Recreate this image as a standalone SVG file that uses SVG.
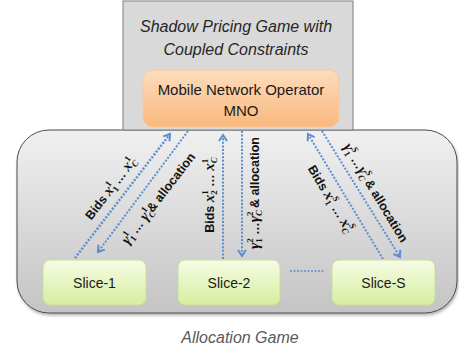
<svg xmlns="http://www.w3.org/2000/svg" width="459" height="349" viewBox="0 0 459 349">
<defs>
<linearGradient id="gBig" x1="0" y1="0" x2="0" y2="1">
<stop offset="0" stop-color="#f0f0f0"/><stop offset="1" stop-color="#c4c4c4"/>
</linearGradient>
<linearGradient id="gOr" x1="0" y1="0" x2="0" y2="1">
<stop offset="0" stop-color="#fddcbd"/><stop offset="1" stop-color="#f9b97d"/>
</linearGradient>
<linearGradient id="gGr" x1="0" y1="0" x2="0" y2="1">
<stop offset="0" stop-color="#f6fce4"/><stop offset="1" stop-color="#d6eea0"/>
</linearGradient>
<filter id="sh" x="-10%" y="-10%" width="120%" height="130%">
<feDropShadow dx="1" dy="2" stdDeviation="1.5" flood-color="#000" flood-opacity="0.3"/>
</filter>
<marker id="ah" markerWidth="10" markerHeight="10" refX="7" refY="5" orient="auto" markerUnits="userSpaceOnUse">
<path d="M1,1 L7,5 L1,9" fill="none" stroke="#5b8fd0" stroke-width="2"/>
</marker>
<style>
.box{font-family:"Liberation Sans",Arial,sans-serif;font-size:14px;fill:#1a1a1a;text-anchor:middle}
.mno{font-size:15px}
.ttl{font-family:"Liberation Sans",Arial,sans-serif;font-size:16px;font-style:italic;fill:#262626;text-anchor:middle}
.cap{font-family:"Liberation Sans",Arial,sans-serif;font-size:16px;font-style:italic;fill:#595959;text-anchor:middle}
.lbl{font-family:"Liberation Sans",Arial,sans-serif;font-size:12.5px;font-weight:bold;fill:#111;text-anchor:middle}
.m{font-family:"Liberation Serif","Times New Roman",serif;font-style:italic;font-size:15px}
.s{font-family:"Liberation Serif","Times New Roman",serif;font-size:9px}
.si{font-family:"Liberation Serif","Times New Roman",serif;font-style:italic;font-size:9px}
.arr{fill:none;stroke:#5b8fd0;stroke-width:2.5;stroke-dasharray:2 1.6;marker-end:url(#ah)}
.dot{fill:none;stroke:#5b8fd0;stroke-width:1.5;stroke-dasharray:2 1.5}
.slice{fill:url(#gGr);stroke:#c8dca0;stroke-width:1}
</style>
</defs>
<rect width="459" height="349" fill="#ffffff"/>

<g id="allocation-game">
<rect x="17" y="130" width="440" height="183" rx="32" ry="32" fill="url(#gBig)" stroke="#4d4d4d" stroke-width="1" filter="url(#sh)"/>
<text class="cap" x="240" y="343">Allocation Game</text>
</g>

<g id="shadow-pricing-game">
<rect x="123" y="1" width="230" height="129" fill="#d9d9d9" stroke="#7f7f7f" stroke-width="1"/>
<text class="ttl" x="236" y="32">Shadow Pricing Game with</text>
<text class="ttl" x="236" y="55">Coupled Constraints</text>
</g>

<g id="mno">
<rect x="143" y="70" width="196" height="57" rx="10" ry="10" fill="url(#gOr)" stroke="#f8c9a0" stroke-width="1"/>
<text class="box mno" x="241" y="95">Mobile Network Operator</text>
<text class="box mno" x="241" y="116">MNO</text>
</g>

<g id="connectors">
<line class="arr" x1="75" y1="258" x2="170" y2="134"/>
<line class="arr" x1="188" y1="131" x2="98" y2="252" style="stroke-width:2"/>
<line class="arr" x1="223" y1="259" x2="223" y2="135" style="stroke-width:2"/>
<line class="arr" x1="242" y1="131" x2="242" y2="256" style="stroke-width:2"/>
<line class="arr" x1="383" y1="259" x2="308" y2="134" style="stroke-width:2"/>
<line class="arr" x1="322" y1="131" x2="400" y2="257" style="stroke-width:2"/>
<line class="dot" x1="290" y1="271" x2="325" y2="271"/>

<text class="lbl" transform="translate(114,191) rotate(-52.5)">Bids <tspan class="m">x</tspan><tspan class="s" dy="3">1</tspan><tspan class="s" dx="-4.5" dy="-9">1</tspan><tspan dy="6"> … </tspan><tspan class="m">x</tspan><tspan class="si" dy="3">C</tspan><tspan class="s" dx="-6" dy="-9">1</tspan><tspan dy="6"></tspan></text>

<text class="lbl" transform="translate(162,201) rotate(-52.5)"><tspan class="m">γ</tspan><tspan class="s" dy="3">1</tspan><tspan class="s" dx="-4.5" dy="-9">1</tspan><tspan dy="6"> … </tspan><tspan class="m">γ</tspan><tspan class="si" dy="3">C</tspan><tspan class="s" dx="-6" dy="-9">1</tspan><tspan dy="6">&amp;  allocation</tspan></text>

<text class="lbl" transform="translate(214,195) rotate(-90)">Bids <tspan class="m">x</tspan><tspan class="s" dy="3">2</tspan><tspan class="s" dx="-4.5" dy="-9">1</tspan><tspan dy="6"> … </tspan><tspan class="m">x</tspan><tspan class="si" dy="3">C</tspan><tspan class="s" dx="-6" dy="-9">1</tspan><tspan dy="6"></tspan></text>

<text class="lbl" transform="translate(259,193) rotate(-90)"><tspan class="m">γ</tspan><tspan class="s" dy="3">1</tspan><tspan class="s" dx="-4.5" dy="-9">2</tspan><tspan dy="6"> …</tspan><tspan class="m">γ</tspan><tspan class="si" dy="3">C</tspan><tspan class="s" dx="-6" dy="-9">2</tspan><tspan dy="6"> &amp;  allocation</tspan></text>

<text class="lbl" transform="translate(327,201) rotate(59)">Bids <tspan class="m">x</tspan><tspan class="s" dy="3">1</tspan><tspan class="si" dx="-4.5" dy="-9">S</tspan><tspan dy="6"> … </tspan><tspan class="m">x</tspan><tspan class="si" dy="3">C</tspan><tspan class="si" dx="-6" dy="-9">S</tspan><tspan dy="6"></tspan></text>

<text class="lbl" transform="translate(372,195) rotate(59)"><tspan class="m">γ</tspan><tspan class="s" dy="3">1</tspan><tspan class="si" dx="-4.5" dy="-9">S</tspan><tspan dy="6"> …</tspan><tspan class="m">γ</tspan><tspan class="si" dy="3">C</tspan><tspan class="si" dx="-6" dy="-9">S</tspan><tspan dy="6"> &amp;  allocation</tspan></text>
</g>

<g id="slice-1">
<rect class="slice" x="43" y="260" width="103" height="45" rx="7" ry="7"/>
<text class="box" x="94.5" y="288">Slice-1</text>
</g>
<g id="slice-2">
<rect class="slice" x="178" y="260" width="102" height="45" rx="7" ry="7"/>
<text class="box" x="229" y="288">Slice-2</text>
</g>
<g id="slice-s">
<rect class="slice" x="332" y="260" width="103" height="45" rx="7" ry="7"/>
<text class="box" x="383.5" y="288">Slice-S</text>
</g>
</svg>
